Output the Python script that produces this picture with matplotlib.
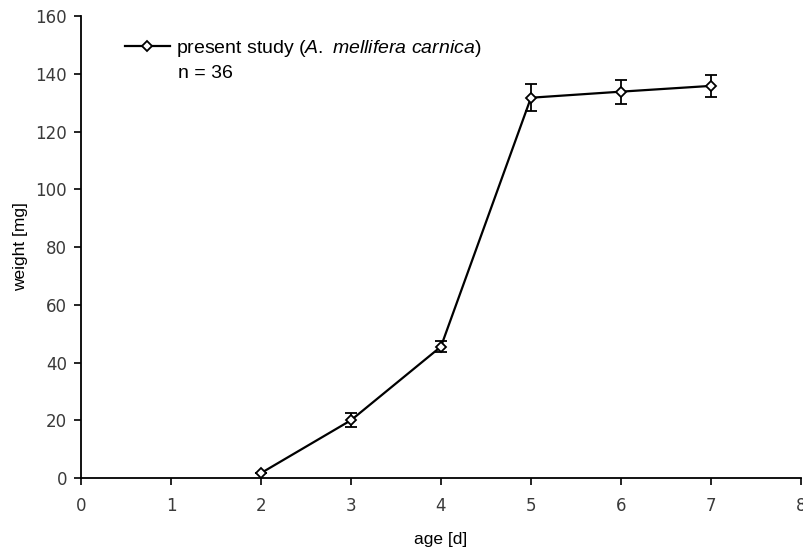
import numpy as np
import matplotlib.pyplot as plt
from matplotlib.lines import Line2D

plt.rcParams['mathtext.fontset'] = 'custom'
plt.rcParams['mathtext.rm'] = 'Liberation Sans'
plt.rcParams['mathtext.it'] = 'Liberation Sans:italic'

age = [2, 3, 4, 5, 6, 7]
weight = [1.7, 20, 45.5, 131.7, 133.8, 135.8]
err = [0, 2.4, 2.0, 4.7, 4.2, 3.8]
xticks = [0, 1, 2, 3, 4, 5, 6, 7, 8]
yticks = [0, 20, 40, 60, 80, 100, 120, 140, 160]

fig = plt.figure(figsize=(8.04, 5.5), dpi=100)
ax = fig.add_axes([0.1007, 0.1309, 0.8955, 0.84])

ax.errorbar(age, weight, yerr=err, color='black', lw=1.6, marker='D',
            markersize=5.5, markerfacecolor='white', markeredgecolor='black',
            markeredgewidth=1.3, capsize=4.5, elinewidth=1.3, capthick=1.6)

ax.set_xlim(0, 8)
ax.set_ylim(0, 160)
ax.set_xticks(xticks)
ax.set_yticks(yticks)
for s in ['top', 'right']:
    ax.spines[s].set_visible(False)
for s in ['left', 'bottom']:
    ax.spines[s].set_linewidth(1.3)
ax.tick_params(direction='out', length=5, width=1.2, labelsize=12, pad=9)
ax.tick_params(axis='y', pad=5)
for lb in ax.get_xticklabels() + ax.get_yticklabels():
    lb.set_color('#3a3a3a')

ax.set_xlabel('age [d]', fontsize=12.5, family='Liberation Sans', labelpad=12)
ax.set_ylabel('weight [mg]', fontsize=12.5, family='Liberation Sans', labelpad=5)

handle = Line2D([], [], color='black', lw=1.6, marker='D', markersize=5.5,
                markerfacecolor='white', markeredgecolor='black', markeredgewidth=1.3)
ax.legend([handle], ['present study ($\\it{A.}$ $\\it{mellifera}$ $\\it{carnica}$)'],
          loc='upper left', bbox_to_anchor=(0.037, 0.99), frameon=False,
          handlelength=2.3, handletextpad=0.3,
          prop={'family': 'Liberation Sans', 'size': 14})
ax.text(0.135, 0.876, 'n = 36', transform=ax.transAxes, fontsize=14,
        family='Liberation Sans', va='center')

plt.savefig('out.png', dpi=100)
